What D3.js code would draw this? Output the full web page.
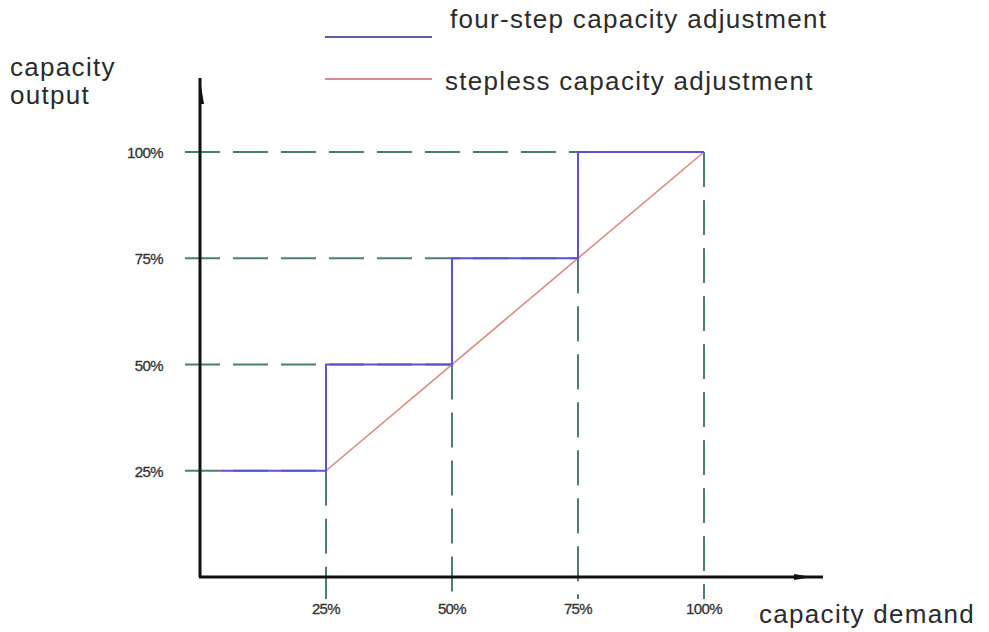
<!DOCTYPE html>
<html>
<head>
<meta charset="utf-8">
<script src="https://cdn.jsdelivr.net/npm/d3@7"></script>
<style>
  body { margin: 0; background: #fff; }
  text { font-family: "Liberation Sans", Arial, sans-serif; fill: #2b2b2b; }
</style>
</head>
<body>
<div id="chart"></div>
<script>
// values (percent)
var tickValues = [25, 50, 75, 100];
var tickLabels = ["25%", "50%", "75%", "100%"];
var stepDemand = [4, 25, 25, 50, 50, 75, 75, 100];
var stepOutput = [25, 25, 50, 50, 75, 75, 100, 100];
var steplessDemand = [25, 100];
var steplessOutput = [25, 100];
var seriesNames = ["four-step capacity adjustment", "stepless capacity adjustment"];
var seriesColors = ["#5d52d6", "#dc8a82"];

var width = 989, height = 632;

var svg = d3.select("#chart")
    .append("svg")
    .attr("width", width)
    .attr("height", height);

var x = d3.scaleLinear().domain([0, 100]).range([200, 704]);
var y = d3.scaleLinear().domain([0, 100]).range([577, 152]);

// dashed guide lines
var guides = svg.append("g").attr("class", "guides");
tickValues.forEach(function(v) {
    guides.append("line")
        .attr("x1", x(0) - 15).attr("x2", x(v))
        .attr("y1", y(v)).attr("y2", y(v));
    guides.append("line")
        .attr("x1", x(v)).attr("x2", x(v))
        .attr("y1", y(v)).attr("y2", y(0) + 22);
});
guides.selectAll("line")
    .attr("stroke", "#4b7d77")
    .attr("stroke-width", 2)
    .attr("stroke-dasharray", "35,13");

// axes
var axes = svg.append("g").attr("class", "axes");
axes.append("line")
    .attr("x1", x(0)).attr("x2", x(0))
    .attr("y1", y(0)).attr("y2", 78)
    .attr("stroke", "#111").attr("stroke-width", 3);
axes.append("line")
    .attr("x1", x(0) - 1).attr("x2", 823)
    .attr("y1", y(0)).attr("y2", y(0))
    .attr("stroke", "#111").attr("stroke-width", 3);
// small half arrowheads
axes.append("path")
    .attr("d", "M" + x(0) + ",80 L" + (x(0) + 4) + ",104 L" + x(0) + ",104 Z")
    .attr("fill", "#111");
axes.append("path")
    .attr("d", "M794," + (y(0) - 3) + " L812," + y(0) + " L794," + (y(0) + 3) + " Z")
    .attr("fill", "#111");

// tick labels
svg.append("g").selectAll("text")
    .data(tickValues)
    .enter().append("text")
    .attr("x", 163)
    .attr("y", function(d) { return y(d) + 6; })
    .attr("text-anchor", "end")
    .attr("font-size", 15)
    .attr("letter-spacing", -0.6)
    .style("fill", "#333")
    .style("stroke", "#333")
    .style("stroke-width", 0.3)
    .text(function(d, i) { return tickLabels[i]; });

svg.append("g").selectAll("text")
    .data(tickValues)
    .enter().append("text")
    .attr("x", function(d) { return x(d); })
    .attr("y", 614)
    .attr("text-anchor", "middle")
    .attr("font-size", 15)
    .attr("letter-spacing", -0.6)
    .style("fill", "#333")
    .style("stroke", "#333")
    .style("stroke-width", 0.3)
    .text(function(d, i) { return tickLabels[i]; });

// series
var line = d3.line()
    .x(function(d) { return x(d[0]); })
    .y(function(d) { return y(d[1]); });

svg.append("path")
    .datum(d3.zip(steplessDemand, steplessOutput))
    .attr("d", line)
    .attr("fill", "none")
    .attr("stroke", seriesColors[1])
    .attr("stroke-width", 1.6);

svg.append("path")
    .datum(d3.zip(stepDemand, stepOutput))
    .attr("d", line)
    .attr("fill", "none")
    .attr("stroke", seriesColors[0])
    .attr("stroke-width", 2);

// legend
var legend = svg.append("g").attr("class", "legend");
var legendY = [37, 79];
var legendTextX = [450, 445];
seriesNames.forEach(function(name, i) {
    legend.append("line")
        .attr("x1", 325).attr("x2", 432)
        .attr("y1", legendY[i]).attr("y2", legendY[i])
        .attr("stroke", i === 0 ? "#5a5f9a" : "#d68b8e")
        .attr("stroke-width", 2);
    legend.append("text")
        .attr("x", legendTextX[i])
        .attr("y", legendY[i] + (i === 0 ? -9 : 11))
        .attr("font-size", 26)
        .attr("letter-spacing", 1.3)
        .text(name);
});

// axis titles
svg.append("text")
    .attr("x", 10).attr("y", 76)
    .attr("font-size", 26).attr("letter-spacing", 1.3)
    .text("capacity");
svg.append("text")
    .attr("x", 10).attr("y", 104)
    .attr("font-size", 26).attr("letter-spacing", 1.3)
    .text("output");
svg.append("text")
    .attr("x", 759).attr("y", 623)
    .attr("font-size", 26).attr("letter-spacing", 1.3)
    .text("capacity demand");
</script>
</body>
</html>
